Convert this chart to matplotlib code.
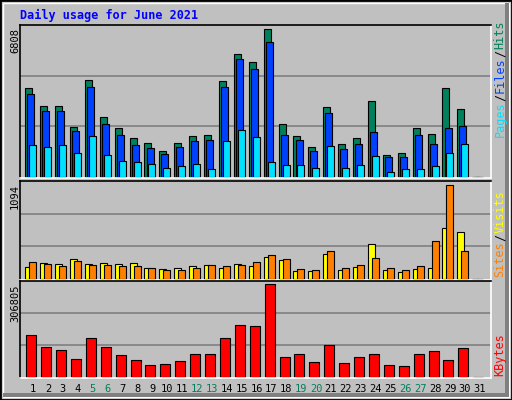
import matplotlib
matplotlib.use("Agg")
import matplotlib.pyplot as plt
import numpy as np
from matplotlib.patches import Rectangle

days = list(range(1, 32))
hits = [4081,3249,3249,2279,4451,2741,2233,1771,1540,1170,1540,1863,1910,4404,5652,5282,6808,
        2418,1863,1355,3203,1494,1771,3480,986,1078,2233,1956,4081,3111,0]
files = [3804,3018,3018,2094,4127,2418,1910,1448,1309,1032,1355,1632,1679,4127,5421,4959,6206,
         1910,1679,1170,2926,1263,1494,2048,893,893,1910,1494,2233,2325,0]
pages = [1448,1355,1448,1078,1863,986,708,662,570,385,477,570,339,1632,2141,1817,662,
         524,524,385,1401,385,524,939,200,339,339,477,1078,1494,0]
visits = [143,190,178,238,178,190,178,190,131,119,131,155,166,131,178,155,262,
          226,95,95,297,107,143,404,107,83,119,131,595,547,0]
sites = [202,178,155,214,166,166,155,155,131,107,107,131,166,155,166,202,285,
         238,119,107,321,131,166,250,131,107,155,440,1094,321,0]
kb_h = [124,88,79,55,115,88,67,52,37,40,49,70,70,115,154,151,274,61,70,46,94,43,61,70,37,34,70,76,52,85]
kbytes = [round(h * 306805 / 274) for h in kb_h] + [0]
weekend = [5, 6, 12, 13, 19, 20, 26, 27]

W, H = 512, 400
fig = plt.figure(figsize=(W/100, H/100), dpi=100)
fig.patch.set_facecolor("#C0C0C0")
fig.patches.append(Rectangle((0, 0), 1, 1, transform=fig.transFigure, fill=False, ec="black", lw=2))
fig.patches.append(Rectangle((3/W, 3/H), (W-6)/W, (H-6)/H, transform=fig.transFigure, fill=False, ec="white", lw=1))
fig.patches.append(Rectangle((3/W, 3/H), (W-6)/W, 4/H, transform=fig.transFigure, color="#808080", lw=0))
fig.patches.append(Rectangle(((W-7)/W, 3/H), 4/W, (H-6)/H, transform=fig.transFigure, color="#808080", lw=0))

mono = "DejaVu Sans Mono"
def pax(x0, y0, x1, y1):
    return fig.add_axes([x0/W, 1-y1/H, (x1-x0)/W, (y1-y0)/H])

xl = (0.127, 31.74)
def style(ax, ymax):
    ax.set_facecolor("#C0C0C0")
    ax.set_xlim(*xl)
    ax.set_ylim(-ymax*0.008, ymax)
    for v in (ymax/3, 2*ymax/3):
        ax.axhline(v, color="#808080", lw=1.2, zorder=0)
    ax.set_xticks([]); ax.set_yticks([])
    for s in ("left", "top"):
        ax.spines[s].set_color("black")
    for s in ("right", "bottom"):
        ax.spines[s].set_color("white")
    for s in ax.spines.values():
        s.set_linewidth(1.2)

x = np.array(days)
ax1 = pax(20, 25, 491, 178)
style(ax1, 7007)
ax1.bar(x-0.52, hits, width=0.47, align="edge", color="#00805C", ec="black", lw=0.8)
ax1.bar(x-0.38, files, width=0.47, align="edge", color="#0040FF", ec="black", lw=0.8)
ax1.bar(x-0.25, pages, width=0.47, align="edge", color="#00E0FF", ec="black", lw=0.8)

ax2 = pax(20, 180.7, 491, 280)
style(ax2, 1138)
ax2.bar(x-0.52, visits, width=0.47, align="edge", color="#FFFF00", ec="black", lw=0.8)
ax2.bar(x-0.25, sites, width=0.47, align="edge", color="#FF8000", ec="black", lw=0.8)

ax3 = pax(20, 280.7, 491, 378)
style(ax3, 319122)
ax3.bar(x-0.45, kbytes, width=0.67, align="edge", color="#FF0000", ec="black", lw=0.8)

fig.text(20/W, 1-15/H, "Daily usage for June 2021", family=mono, weight="bold",
         color="#0000FF", fontsize=8.5, va="center", ha="left")
for yy, t in ((25, "6808"), (181, "1094"), (281, "306805")):
    fig.text(15/W, 1-(yy+3)/H, t, family=mono, fontsize=7.5, rotation=90, va="top", ha="center")

def rlabel(y_bottom, parts):
    y = y_bottom
    for t, c in parts:
        fig.text(500/W, 1-y/H, t, family=mono, fontsize=8.5, rotation=90, color=c,
                 va="bottom", ha="center")
        y -= 7.0 * len(t) + 1
rlabel(137, [("Pages", "#00E0FF"), ("/", "#000000"), ("Files", "#0040FF"), ("/", "#000000"), ("Hits", "#00805C")])
rlabel(277, [("Sites", "#FF8000"), ("/", "#000000"), ("Visits", "#FFFF00")])
rlabel(376, [("KBytes", "#FF0000")])

for d in days:
    px = 20 + (d - xl[0]) / (xl[1] - xl[0]) * 471
    fig.text(px/W, 1-389/H, str(d), family=mono, fontsize=7.5, ha="center", va="center",
             color="#00805C" if d in weekend else "black")

fig.savefig("out.png", dpi=100, facecolor=fig.get_facecolor())
